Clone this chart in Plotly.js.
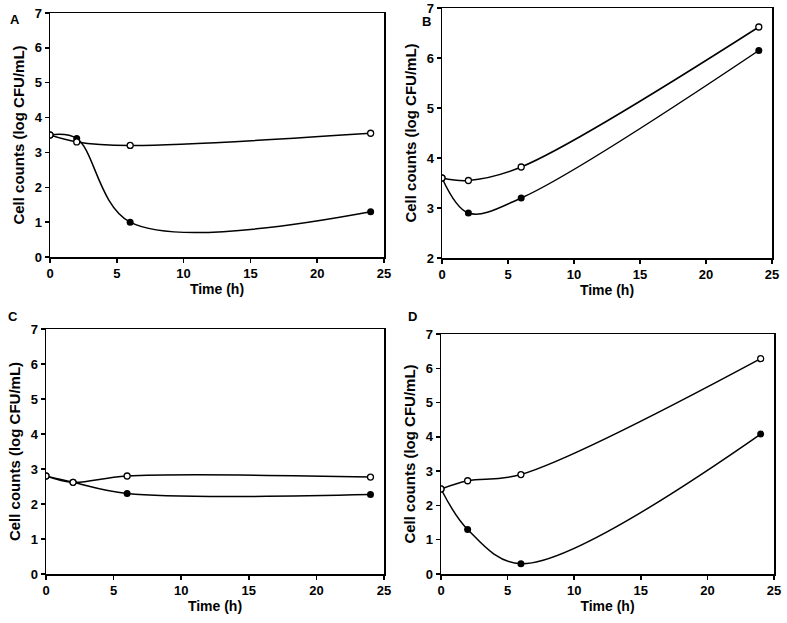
<!DOCTYPE html>
<html>
<head>
<meta charset="utf-8">
<script src="https://cdn.plot.ly/plotly-3.0.1.min.js"></script>
<style>
  html, body { margin: 0; padding: 0; background: #fff; }
  #chart { width: 787px; height: 623px; }
</style>
</head>
<body>
<div id="chart"></div>
<script>
// Time points (h)
const hours = [0, 2, 6, 24];

// Panel A
const aOpen = [3.5, 3.3, 3.2, 3.55];
const aFilled = [3.5, 3.4, 1.0, 1.3];
// Panel B
const bOpen = [3.6, 3.55, 3.82, 6.62];
const bFilled = [3.6, 2.9, 3.2, 6.15];
// Panel C
const cOpen = [2.8, 2.62, 2.8, 2.77];
const cFilled = [2.8, 2.62, 2.3, 2.27];
// Panel D
const dOpen = [2.48, 2.72, 2.9, 6.28];
const dFilled = [2.48, 1.3, 0.3, 4.08];

const panelLetters = ['A', 'B', 'C', 'D'];

const FONT = { family: 'Liberation Sans, Arial, sans-serif', size: 13, color: '#000', weight: 'bold' };

function pair(xa, ya, open, filled) {
  const line = { color: '#000', width: 1.5, shape: 'spline', smoothing: 1.0 };
  return [
    { x: hours, y: filled, xaxis: xa, yaxis: ya, mode: 'lines+markers', type: 'scatter',
      line, marker: { symbol: 'circle', size: 7, color: '#000' } },
    { x: hours, y: open, xaxis: xa, yaxis: ya, mode: 'lines+markers', type: 'scatter',
      line, marker: { symbol: 'circle', size: 6, color: '#fff', line: { color: '#000', width: 1.3 } } },
  ];
}

const traces = [
  ...pair('x', 'y', aOpen, aFilled),
  ...pair('x2', 'y2', bOpen, bFilled),
  ...pair('x3', 'y3', cOpen, cFilled),
  ...pair('x4', 'y4', dOpen, dFilled),
];

function xax(domain, anchor) {
  return {
    domain, anchor, range: [0, 25], dtick: 5, tick0: 0,
    showline: true, mirror: true, linecolor: '#000', linewidth: 1.5,
    ticks: 'outside', ticklen: 4, tickwidth: 1.5, tickcolor: '#000',
    showgrid: false, zeroline: false, fixedrange: true,
    ticklabeloverflow: 'allow',
    tickfont: { ...FONT, size: 13 },
    title: { text: 'Time (h)', font: { ...FONT, size: 14 }, standoff: 0 },
  };
}
function yax(domain, anchor, range) {
  return {
    domain, anchor, range, dtick: 1,
    showline: true, mirror: true, linecolor: '#000', linewidth: 1.5,
    ticks: 'outside', ticklen: 4, tickwidth: 1.5, tickcolor: '#000',
    showgrid: false, zeroline: false, fixedrange: true,
    ticklabeloverflow: 'allow',
    tickfont: { ...FONT, size: 13 },
    title: { text: 'Cell counts (log CFU/mL)', font: { ...FONT, size: 15 }, standoff: 6 },
  };
}

const W = 787, H = 623;
const dx = (a, b) => [a / W, b / W];
const dy = (top, bottom) => [1 - bottom / H, 1 - top / H];

const letterPos = [[15, 20], [426, 22], [13, 316], [412, 316]];

const layout = {
  width: W, height: H,
  margin: { l: 0, r: 0, t: 0, b: 0 },
  paper_bgcolor: '#fff', plot_bgcolor: '#fff',
  showlegend: false,
  font: FONT,
  xaxis: xax(dx(50, 384), 'y'),
  yaxis: yax(dy(13, 257), 'x', [0, 7]),
  xaxis2: xax(dx(442, 772), 'y2'),
  yaxis2: yax(dy(8, 258), 'x2', [2, 7]),
  xaxis3: xax(dx(46, 384), 'y3'),
  yaxis3: yax(dy(329, 574), 'x3', [0, 7]),
  xaxis4: xax(dx(441, 774), 'y4'),
  yaxis4: yax(dy(334, 574), 'x4', [0, 7]),
  annotations: panelLetters.map((t, i) => ({
    text: t, xref: 'paper', yref: 'paper',
    x: letterPos[i][0] / W, y: 1 - letterPos[i][1] / H,
    xanchor: 'center', yanchor: 'middle', showarrow: false,
    font: { ...FONT, size: 13 },
  })),
};

Plotly.newPlot('chart', traces, layout, { displayModeBar: false, staticPlot: true });
</script>
</body>
</html>
